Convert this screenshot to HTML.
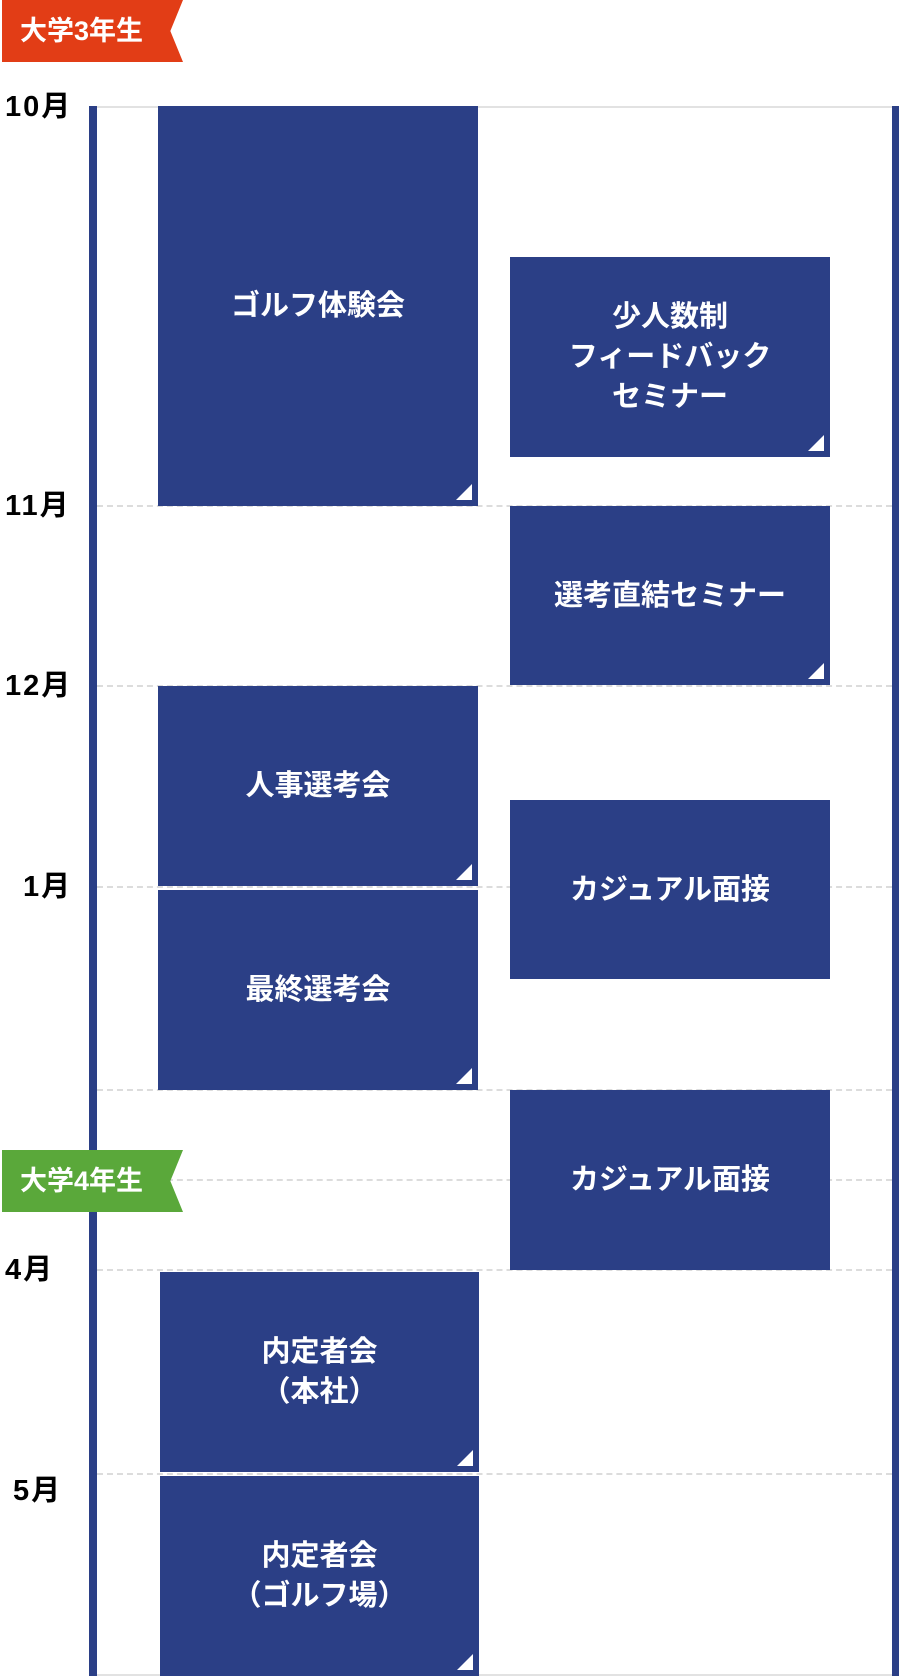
<!DOCTYPE html>
<html><head><meta charset="utf-8">
<style>
body{margin:0;width:899px;height:1676px;position:relative;background:#fff;overflow:hidden;font-family:"Liberation Sans","Noto Sans CJK JP",sans-serif;}
.a{position:absolute;}
.bar{background:#2b3f86;}
.dl{position:absolute;left:97px;width:795px;height:0;border-top:2px dashed #dcdcdc;}
.box{position:absolute;background:#2b3f86;color:#fff;font-weight:bold;font-size:29px;line-height:40px;display:flex;align-items:center;justify-content:center;text-align:center;}
.tri{position:absolute;right:6px;bottom:6px;width:0;height:0;border-left:16px solid transparent;border-bottom:16px solid #fff;}
.m{position:absolute;font-weight:bold;font-size:29px;color:#000;line-height:28px;letter-spacing:2px;}
.tag{position:absolute;left:2px;width:181px;height:62px;color:#fff;font-weight:bold;font-size:27px;line-height:62px;padding-left:18px;box-sizing:border-box;clip-path:polygon(0 0,100% 0,93% 50%,100% 100%,0 100%);}
</style></head><body>
<div class="tag" style="top:0;background:#e23d16;">大学3年生</div>
<div class="a" style="left:97px;top:106px;width:795px;height:2px;background:#e2e2e2;"></div>
<div class="a" style="left:97px;top:1674px;width:795px;height:2px;background:#e2e2e2;"></div>
<div class="dl" style="top:505px"></div>
<div class="dl" style="top:685px"></div>
<div class="dl" style="top:886px"></div>
<div class="dl" style="top:1089px"></div>
<div class="dl" style="top:1179px"></div>
<div class="dl" style="top:1269px"></div>
<div class="dl" style="top:1473px"></div>
<div class="a bar" style="left:89px;top:106px;width:8px;height:1570px;"></div>
<div class="a bar" style="left:892px;top:106px;width:7px;height:1570px;"></div>

<div class="m" style="left:5px;top:93px">10月</div>
<div class="m" style="left:5px;top:492px">11月</div>
<div class="m" style="left:5px;top:672px">12月</div>
<div class="m" style="left:23px;top:873px">1月</div>
<div class="m" style="left:5px;top:1256px">4月</div>
<div class="m" style="left:13px;top:1477px">5月</div>

<div class="box" style="left:158px;top:106px;width:320px;height:400px">ゴルフ体験会<div class="tri"></div></div>
<div class="box" style="left:510px;top:257px;width:320px;height:200px">少人数制<br>フィードバック<br>セミナー<div class="tri"></div></div>
<div class="box" style="left:510px;top:506px;width:320px;height:179px">選考直結セミナー<div class="tri"></div></div>
<div class="box" style="left:158px;top:686px;width:320px;height:200px">人事選考会<div class="tri"></div></div>
<div class="box" style="left:158px;top:890px;width:320px;height:200px">最終選考会<div class="tri"></div></div>
<div class="box" style="left:510px;top:800px;width:320px;height:179px">カジュアル面接</div>
<div class="box" style="left:510px;top:1090px;width:320px;height:180px">カジュアル面接</div>
<div class="box" style="left:160px;top:1272px;width:319px;height:200px">内定者会<br>（本社）<div class="tri"></div></div>
<div class="box" style="left:160px;top:1476px;width:319px;height:200px">内定者会<br>（ゴルフ場）<div class="tri"></div></div>

<div class="tag" style="top:1150px;background:#5aa83a;">大学4年生</div>
</body></html>
